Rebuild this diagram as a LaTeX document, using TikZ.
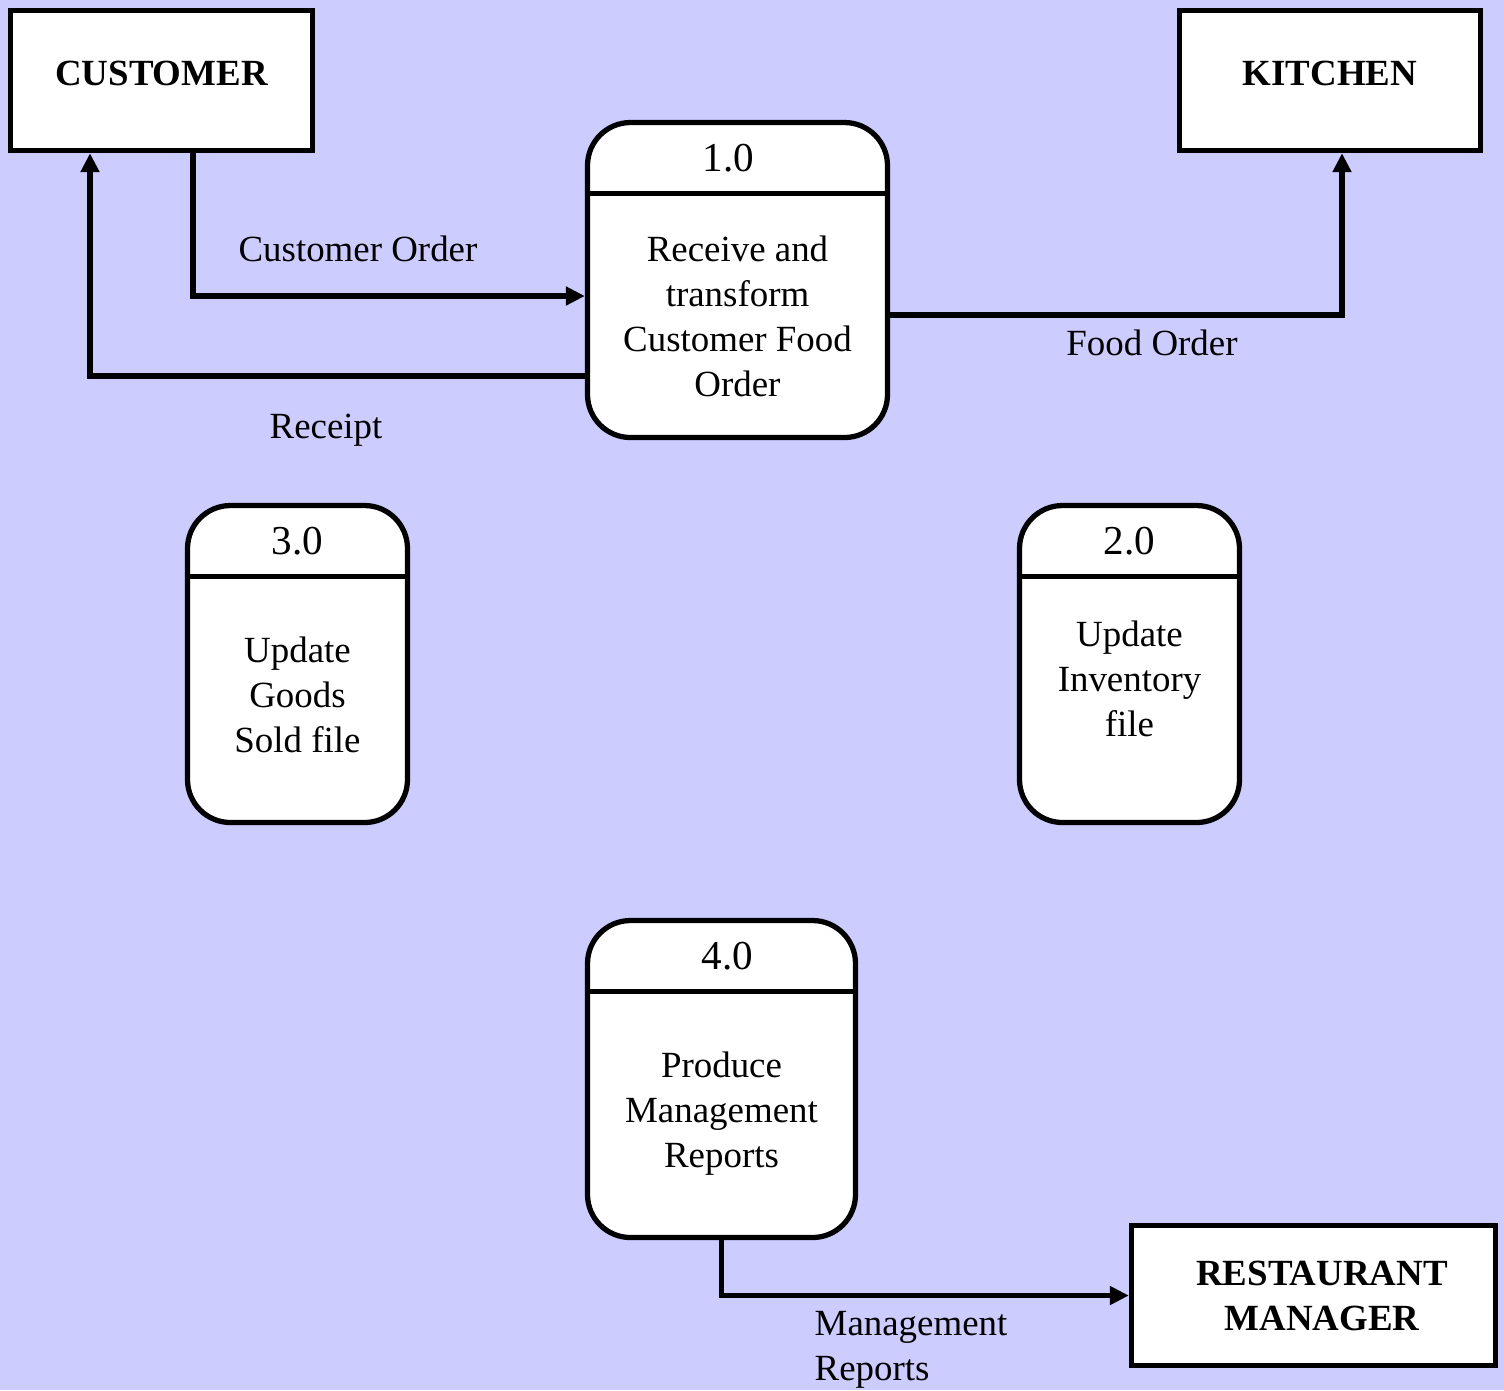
\documentclass[tikz,border=0pt]{standalone}
\usepackage{fontspec}
\setmainfont{Liberation Serif}
\usetikzlibrary{arrows.meta,positioning}
\definecolor{dfdBack}{RGB}{204,204,255}

\begin{document}
\begin{tikzpicture}[
  entity/.style={
    draw,
    line width=1.5pt,
    fill=white,
    minimum height=1.40cm
  },
  entityname/.style={
    font=\fontsize{10.5}{12.8}\selectfont\bfseries,
    align=center,
    inner sep=0pt
  },
  process/.style={
    draw,
    line width=1.5pt,
    fill=white,
    rounded corners=0.43cm,
    minimum height=3.17cm
  },
  divider/.style={line width=1.5pt},
  procid/.style={font=\fontsize{11.7}{14}\selectfont,inner sep=0pt},
  proctext/.style={font=\fontsize{10.5}{12.8}\selectfont,align=center,inner sep=0pt},
  flowlabel/.style={font=\fontsize{10.5}{12.8}\selectfont,inner sep=0pt},
  flow/.style={line width=1.6pt,-{Triangle[length=0.19cm,width=0.18cm]}}
]
  \fill[dfdBack] (0,0) rectangle (15.04,-13.90);
  \useasboundingbox (0,0) rectangle (15.04,-13.90);

  \node[entity,minimum width=3.02cm] (customer) at (1.615,-0.805) {};
  \node[entityname] (customername) at ([yshift=0.075cm]customer.center) {CUSTOMER};
  \node[entity,minimum width=3.01cm] (kitchen) at (13.30,-0.805) {};
  \node[entityname] (kitchenname) at ([yshift=0.075cm]kitchen.center) {KITCHEN};
  \node[entity,minimum width=3.64cm] (manager) at (13.135,-12.955) {};
  \node[entityname] (managername) at ([xshift=0.085cm]manager.center) {RESTAURANT\\MANAGER};

  \node[process,minimum width=3.00cm,minimum height=3.15cm] (p1) at (7.375,-2.80) {};
  \draw[divider] ([yshift=-0.735cm]p1.north west) -- ([yshift=-0.735cm]p1.north east);
  \node[procid] (p1id) at ([xshift=-0.09cm,yshift=-0.38cm]p1.north) {1.0};
  \node[proctext] (p1text) at (7.375,-3.16) {Receive and\\transform\\Customer Food\\Order};

  \node[process,minimum width=2.20cm] (p2) at (11.295,-6.64) {};
  \draw[divider] ([yshift=-0.735cm]p2.north west) -- ([yshift=-0.735cm]p2.north east);
  \node[procid] (p2id) at ([yshift=-0.38cm]p2.north) {2.0};
  \node[proctext] (p2text) at (11.295,-6.79) {Update\\Inventory\\file};

  \node[process,minimum width=2.20cm] (p3) at (2.975,-6.64) {};
  \draw[divider] ([yshift=-0.735cm]p3.north west) -- ([yshift=-0.735cm]p3.north east);
  \node[procid] (p3id) at ([yshift=-0.38cm]p3.north) {3.0};
  \node[proctext] (p3text) at (2.975,-6.95) {Update\\Goods\\Sold file};

  \node[process,minimum width=2.68cm] (p4) at (7.215,-10.79) {};
  \draw[divider] ([yshift=-0.735cm]p4.north west) -- ([yshift=-0.735cm]p4.north east);
  \node[procid] (p4id) at ([xshift=0.06cm,yshift=-0.38cm]p4.north) {4.0};
  \node[proctext] (p4text) at (7.215,-11.14) {Produce\\Management\\Reports};

  \draw[flow] ([xshift=0.315cm]customer.south) |- ([yshift=-0.16cm]p1.west);
  \draw[flow] ([yshift=-0.96cm]p1.west) -| ([xshift=-0.715cm]customer.south);
  \draw[flow] ([yshift=-0.35cm]p1.east) -| ([xshift=0.12cm]kitchen.south);
  \draw[flow] (p4.south) |- (manager.west);

  \node[flowlabel] (ordertag) at (3.58,-2.49) {Customer Order};
  \node[flowlabel] (receipttag) at (3.26,-4.30) {Receipt};
  \node[flowlabel] (foodtag) at (11.52,-3.43) {Food Order};
  \node[flowlabel,align=left,anchor=west] (reportstag) at (8.14,-13.50) {Management\\Reports};
\end{tikzpicture}
\end{document}
